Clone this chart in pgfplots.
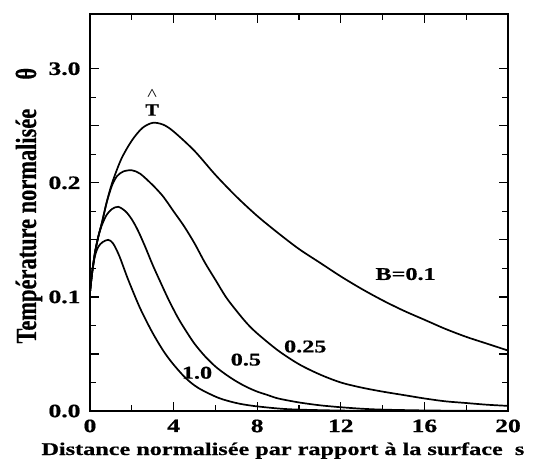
\documentclass[border=0pt]{standalone}
\usepackage{fontspec}
\setmainfont{Liberation Serif}[BoldFeatures={FakeBold=0.6}]
\usepackage{graphicx}
\usepackage{pgfplots}
\pgfplotsset{compat=1.18}
\newcommand{\W}[1]{\scalebox{1.35}[1]{#1}}
\begin{document}
\begin{tikzpicture}
\begin{axis}[
  at={(0,0)}, anchor=origin,
  scale only axis, width=418bp, height=397bp,
  xmin=0, xmax=20, ymin=0, ymax=0.348,
  axis line style={line width=2.6bp},
  tick style={line width=1.2bp, black},
  tick align=inside,
  major tick length=9bp, minor tick length=6bp,
  xtick={0,4,8,12,16,20},
  xticklabels={\W{0},\W{4},\W{8},\W{12},\W{16},\W{20}},
  minor x tick num=1,
  ytick={0,0.1,0.2,0.3},
  yticklabels={\W{0.0},\W{0.1},\W{0.2},\W{3.0}},
  extra y ticks={0.05,0.15,0.25},
  extra y tick labels={},
  minor y tick num=3,
  ticklabel style={font=\fontsize{19}{19}\selectfont\bfseries},
  xticklabel style={yshift=-5bp},
  yticklabel style={xshift=-6bp},
  xlabel={\W{Distance normalisée par rapport à la surface\hspace{0.5em}s}},
  xlabel style={font=\fontsize{18}{18}\selectfont\bfseries, at={(axis description cs:0,0)}, anchor=base west, xshift=-52bp, yshift=-44bp},
  ylabel={\scalebox{1}[1.3]{Température normalisée\hspace{1.3em}θ}},
  ylabel style={font=\fontsize{22.5}{22.5}\selectfont\bfseries, at={(axis description cs:0,0)}, anchor=base west, xshift=64bp, yshift=54bp},
  clip=true,
]
\coordinate (BL) at (rel axis cs:0,0);
\addplot[black, line width=1.7bp, smooth] coordinates {
(0,0.104)(0.1,0.121)(0.24,0.139)(0.4,0.153)(0.57,0.165)(0.8,0.183)(1.06,0.200)(1.5,0.221)(2.0,0.237)(2.5,0.248)(3.0,0.2526)(3.5,0.251)(4.0,0.245)(5.0,0.228)(6.0,0.207)(7.0,0.188)(8.0,0.171)(9.0,0.156)(10,0.142)(11,0.130)(12,0.118)(13,0.107)(14,0.097)(15,0.088)(16,0.080)(17,0.072)(18,0.065)(19,0.059)(20,0.053)};
\addplot[black, line width=1.7bp, smooth] coordinates {
(0,0.104)(0.1,0.121)(0.24,0.139)(0.4,0.153)(0.57,0.165)(0.8,0.183)(1.06,0.198)(1.3,0.206)(1.6,0.210)(2.0,0.211)(2.4,0.208)(3.0,0.198)(3.5,0.188)(4.0,0.175)(4.5,0.162)(5.0,0.147)(5.5,0.130)(6.0,0.115)(6.5,0.100)(7.0,0.088)(7.5,0.077)(8,0.068)(9,0.053)(10,0.041)(11,0.032)(12,0.025)(13,0.0205)(14,0.017)(15,0.014)(16,0.011)(17,0.0085)(18,0.007)(19,0.0055)(20,0.0045)};
\addplot[black, line width=1.7bp, smooth] coordinates {
(0,0.104)(0.1,0.121)(0.24,0.139)(0.4,0.153)(0.57,0.163)(0.8,0.172)(1.05,0.177)(1.35,0.179)(1.7,0.175)(2.0,0.168)(2.3,0.158)(2.64,0.144)(3.0,0.128)(3.37,0.113)(3.75,0.098)(4.2,0.082)(4.6,0.070)(5.0,0.059)(5.5,0.048)(6.0,0.039)(6.5,0.032)(7,0.026)(7.5,0.021)(8,0.017)(8.5,0.014)(9,0.011)(10,0.0075)(11,0.005)(12,0.0033)(13,0.002)(14,0.0012)(16,0.0005)(18,0.0002)(20,0.0001)};
\addplot[black, line width=1.7bp, smooth] coordinates {
(0,0.104)(0.1,0.121)(0.24,0.136)(0.4,0.144)(0.6,0.148)(0.87,0.150)(1.1,0.147)(1.4,0.136)(1.83,0.115)(2.4,0.090)(2.98,0.069)(3.5,0.053)(3.94,0.042)(4.57,0.029)(5.2,0.020)(6.15,0.0115)(7,0.007)(7.8,0.0045)(9,0.0022)(10,0.0012)(12,0.0004)(14,0.0001)(16,0)(20,0)};
\node[font=\fontsize{18}{18}\selectfont\bfseries] at (axis cs:15.1,0.12) {\W{B=0.1}};
\node[font=\fontsize{18}{18}\selectfont\bfseries] at (axis cs:10.3,0.0565) {\W{0.25}};
\node[font=\fontsize{18}{18}\selectfont\bfseries] at (axis cs:7.46,0.045) {\W{0.5}};
\node[font=\fontsize{18}{18}\selectfont\bfseries] at (axis cs:5.12,0.0335) {\W{1.0}};
\node[font=\fontsize{17}{15}\selectfont\bfseries, inner sep=0pt, anchor=south, align=center] at (axis cs:2.97,0.2588) {\mdseries\scalebox{1.2}[1]{\^{}}\\\scalebox{1.2}[1]{T}};
\end{axis}
\pgfresetboundingbox
\path[use as bounding box] ([shift={(-90bp,-57bp)}]BL) rectangle ([shift={(447bp,411bp)}]BL);
\end{tikzpicture}
\end{document}
